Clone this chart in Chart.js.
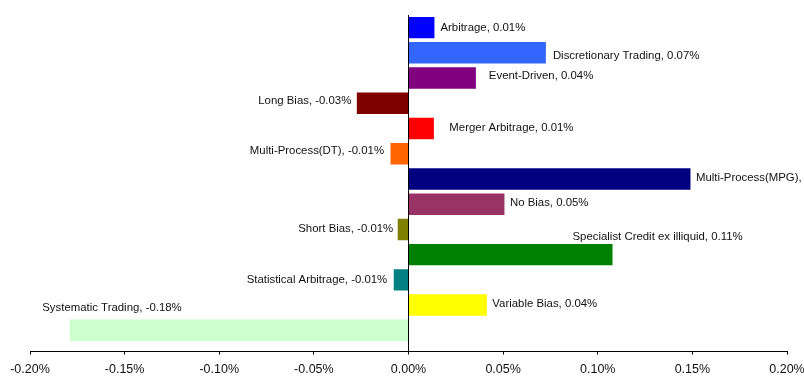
<!DOCTYPE html>
<html>
<head>
<meta charset="utf-8">
<script src="https://cdn.jsdelivr.net/npm/chart.js@4"></script>
<style>
  body { margin: 0; background: #fff; }
</style>
</head>
<body>
<canvas id="chart-strategies" width="804" height="379"></canvas>
<script>
// strategy returns, in percent
const strategies = ['Arbitrage', 'Discretionary Trading', 'Event-Driven', 'Long Bias', 'Merger Arbitrage',
    'Multi-Process(DT)', 'Multi-Process(MPG)', 'No Bias', 'Short Bias', 'Specialist Credit ex illiquid',
    'Statistical Arbitrage', 'Variable Bias', 'Systematic Trading'];
const returns = [0.0137, 0.0726, 0.0356, -0.0273, 0.0134, -0.0095, 0.149, 0.0507, -0.0057, 0.1078, -0.0078, 0.0414, -0.179];
const xTicks = [-0.20, -0.15, -0.10, -0.05, 0.00, 0.05, 0.10, 0.15, 0.20];

const barColors = ['#0000ff', '#3366ff', '#800080', '#800000', '#ff0000', '#ff6600', '#000080',
    '#993366', '#808000', '#008000', '#008080', '#ffff00', '#ccffcc'];

// nudges for the data labels (px from the bar tip / bar centre), like the excel original
const labelShift = [[6, 0.5], [7, 3], [13, -2.5], [-5.5, -2.5], [15.5, -1], [-6.5, -3], [5.5, -1],
    [5.5, -1], [-4.5, -1], [-40, -17.5], [-6.5, -0.5], [5.5, -1], [112, -22]];

const fontFamily = "'Liberation Sans', Arial, sans-serif";

const barLabels = {
    id: 'barLabels',
    afterDatasetsDraw(chart) {
        const ctx = chart.ctx;
        const bars = chart.getDatasetMeta(0).data;
        ctx.save();
        ctx.font = '11.4px ' + fontFamily;
        ctx.fillStyle = '#111';
        ctx.textBaseline = 'middle';
        bars.forEach((bar, i) => {
            const v = returns[i];
            ctx.textAlign = v >= 0 ? 'left' : 'right';
            ctx.fillText(strategies[i] + ', ' + v.toFixed(2) + '%', bar.x + labelShift[i][0], bar.y + labelShift[i][1]);
        });
        ctx.restore();
    }
};

const chartStrategies = new Chart(document.getElementById('chart-strategies'), {
    type: 'bar',
    data: {
        labels: strategies,
        datasets: [{
            data: returns,
            backgroundColor: barColors,
            borderWidth: 0,
            barPercentage: 0.85,
            categoryPercentage: 1
        }]
    },
    options: {
        indexAxis: 'y',
        responsive: false,
        animation: false,
        layout: {
            padding: { left: 30, right: 17, top: 15, bottom: 1.5 }
        },
        plugins: {
            legend: { display: false },
            tooltip: { enabled: false }
        },
        scales: {
            x: {
                min: xTicks[0],
                max: xTicks[xTicks.length - 1],
                afterBuildTicks: axis => { axis.ticks = xTicks.map(v => ({ value: v })); },
                // keep the plot edges where the original has them, the end labels may touch the border
                afterFit: axis => {
                    axis.height = 26;
                    axis.paddingLeft = 0;
                    axis.paddingRight = 0;
                },
                border: { display: true, color: '#000', width: 1 },
                grid: {
                    color: c => (c.tick && c.tick.value === 0 ? '#000' : 'rgba(0,0,0,0)'),
                    tickColor: '#000',
                    tickLength: 3,
                    lineWidth: 1
                },
                ticks: {
                    padding: 8,
                    maxRotation: 0,
                    autoSkip: false,
                    color: '#111',
                    font: { family: fontFamily, size: 12.5 },
                    callback: v => v.toFixed(2) + '%'
                }
            },
            y: {
                display: false,
                // bars sit a bit higher than an even split of the plot height
                afterBuildTicks: axis => { axis._valueRange = strategies.length + 0.34; }
            }
        }
    },
    plugins: [barLabels]
});
</script>
</body>
</html>
